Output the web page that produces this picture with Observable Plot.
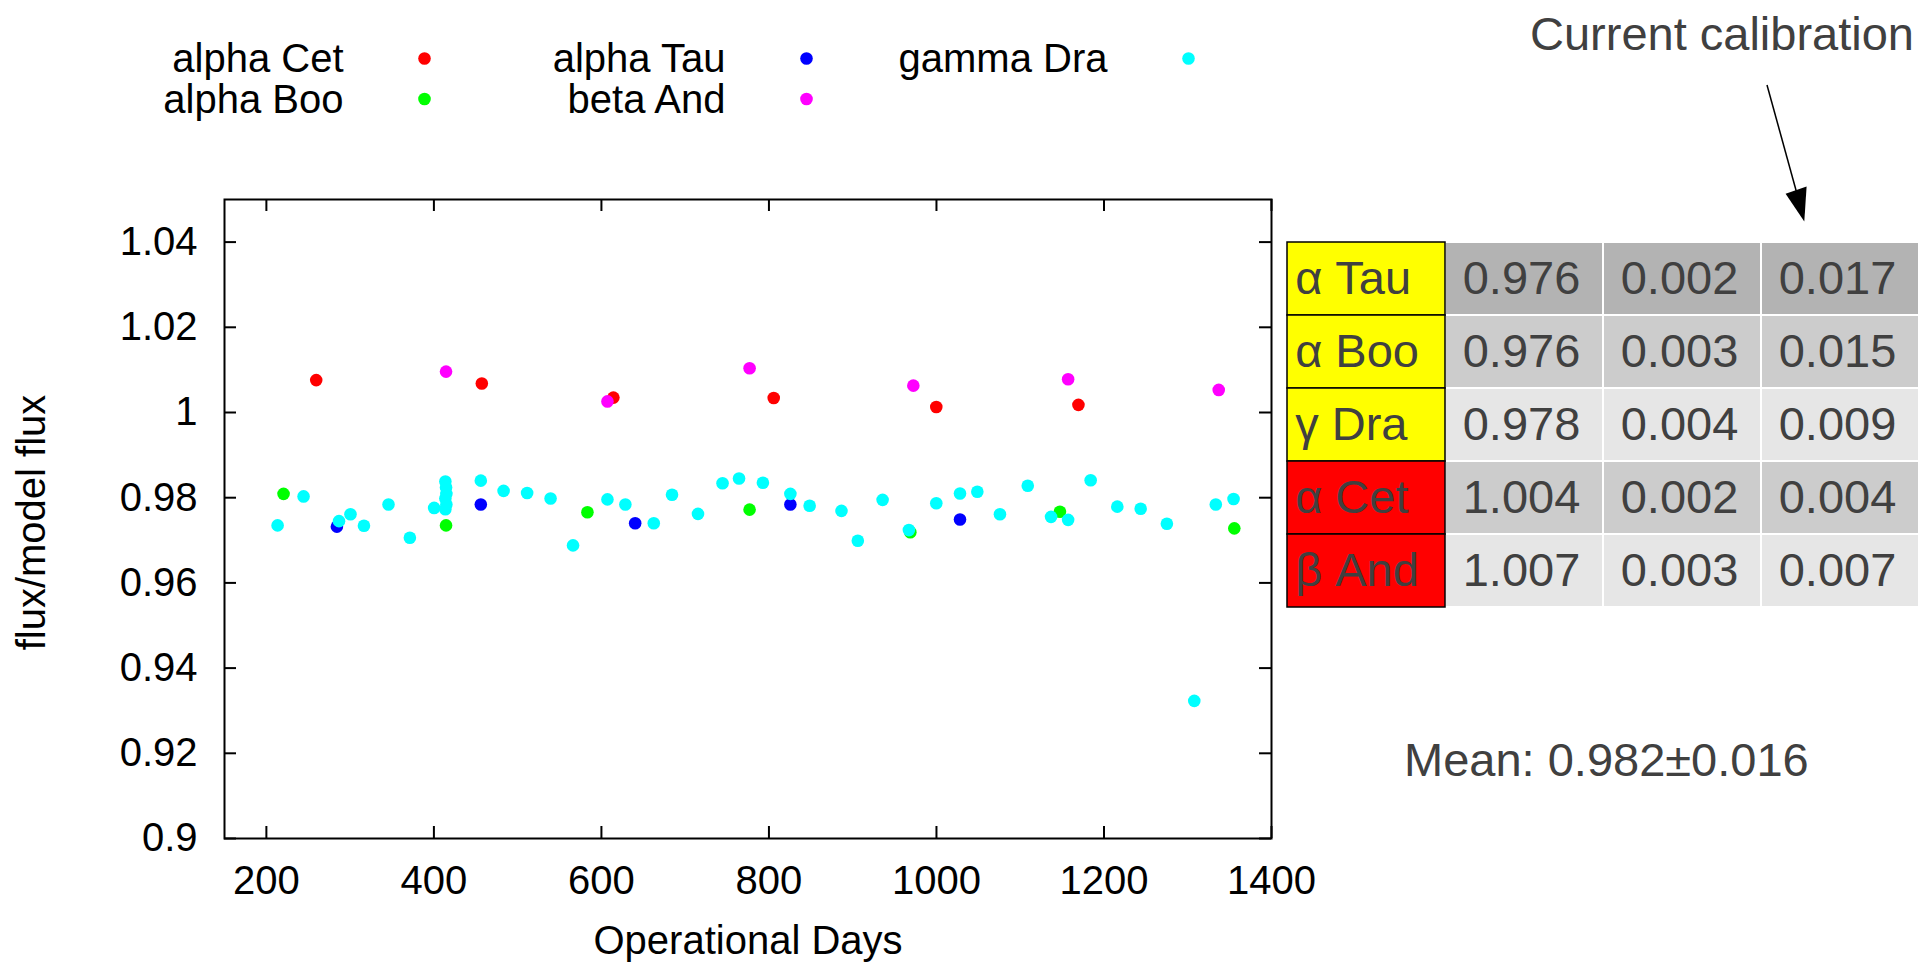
<!DOCTYPE html>
<html>
<head>
<meta charset="utf-8">
<script src="https://cdn.jsdelivr.net/npm/d3@7"></script>
<script src="https://cdn.jsdelivr.net/npm/@observablehq/plot@0.6"></script>
<style>
  html, body { margin: 0; padding: 0; background: #fff; overflow: hidden; }
  #page { position: relative; width: 1922px; height: 962px; background: #fff; }
  #page > svg { position: absolute; }
</style>
</head>
<body>
<div id="page"></div>
<script>
// Calibration stars: flux / model flux against operational day
const seriesNames = ["alpha Cet", "alpha Boo", "alpha Tau", "beta And", "gamma Dra"];
const seriesColors = ["#ff0000", "#00ff00", "#0000ff", "#ff00ff", "#00ffff"];

const alphaCetDays = [259.5, 457.2, 614.3, 805.7, 999.8, 1169.5];
const alphaCetFlux = [1.0076, 1.0068, 1.0035, 1.0034, 1.0013, 1.0018];

const alphaBooDays = [220.5, 414.5, 583.3, 776.9, 968.8, 1147.4, 1355.6];
const alphaBooFlux = [0.9809, 0.9735, 0.9766, 0.9772, 0.9719, 0.9767, 0.9728];

const alphaTauDays = [284.2, 456.0, 640.3, 825.6, 1028.1];
const alphaTauFlux = [0.9732, 0.9784, 0.9740, 0.9784, 0.9749];

const betaAndDays = [414.5, 607.2, 776.9, 972.4, 1157.2, 1337.0];
const betaAndFlux = [1.0096, 1.0026, 1.0104, 1.0063, 1.0078, 1.0053];

const gammaDraDays = [213.4, 244.4, 286.7, 300.4, 316.5, 345.8, 371.3, 400.3,
  413.7, 414.5, 414.9, 413.7, 414.9, 413.7,
  456.0, 483.2, 511.3, 539.3, 566.1, 607.2, 628.6, 662.5, 684.3, 715.3,
  744.6, 764.3, 792.8, 825.6, 848.6, 886.6, 906.1, 935.7, 967.1, 999.8,
  1028.1, 1048.8, 1075.8, 1109.0, 1136.8, 1157.2, 1184.1, 1215.9, 1243.8,
  1275.1, 1307.8, 1333.5, 1354.7];
const gammaDraFlux = [0.9735, 0.9803, 0.9745, 0.9761, 0.9734, 0.9784, 0.9706, 0.9776,
  0.9838, 0.9824, 0.9809, 0.9798, 0.9784, 0.9773,
  0.9840, 0.9816, 0.9811, 0.9798, 0.9688, 0.9796, 0.9784, 0.9740, 0.9807, 0.9762,
  0.9834, 0.9845, 0.9835, 0.9809, 0.9781, 0.9769, 0.9699, 0.9795, 0.9724, 0.9787,
  0.9810, 0.9814, 0.9761, 0.9828, 0.9755, 0.9748, 0.9841, 0.9779, 0.9774,
  0.9739, 0.9323, 0.9784, 0.9797];

const xTicks = [200, 400, 600, 800, 1000, 1200, 1400];
const yTicks = [0.9, 0.92, 0.94, 0.96, 0.98, 1, 1.02, 1.04];

// Summary table
const calStars = ["α Tau", "α Boo", "γ Dra", "α Cet", "β And"];
const calRatio = [0.976, 0.976, 0.978, 1.004, 1.007];
const calError = [0.002, 0.003, 0.004, 0.002, 0.003];
const calCurrent = [0.017, 0.015, 0.009, 0.004, 0.007];
const meanLabel = "Mean: 0.982±0.016";
const calibrationLabel = "Current calibration";

// ---- build rows ----
const seriesData = [
  [alphaCetDays, alphaCetFlux],
  [alphaBooDays, alphaBooFlux],
  [alphaTauDays, alphaTauFlux],
  [betaAndDays, betaAndFlux],
  [gammaDraDays, gammaDraFlux]
];
const points = seriesData.flatMap(([days, flux], s) =>
  days.map((day, i) => ({star: seriesNames[s], day, flux: flux[i]})));

const FONT = "'Liberation Sans', Arial, Helvetica, sans-serif";
const W = 1922, H = 962;
const mL = 224, mR = 651, mT = 199, mB = 124;
const frameW = W - mL - mR, frameH = H - mT - mB;
const tickLen = 12;

const chart = Plot.plot({
  width: W,
  height: H,
  marginLeft: mL,
  marginRight: mR,
  marginTop: mT,
  marginBottom: mB,
  style: {fontFamily: FONT, fontSize: "40px", color: "#000", background: "transparent", overflow: "visible"},
  x: {domain: [150, 1400]},
  y: {domain: [0.9, 1.05]},
  color: {domain: seriesNames, range: seriesColors},
  marks: [
    // inward ticks on all four sides
    Plot.ruleX(xTicks, {x: d => d, insetTop: frameH - tickLen, stroke: "#000", strokeWidth: 2}),
    Plot.ruleX(xTicks, {x: d => d, insetBottom: frameH - tickLen, stroke: "#000", strokeWidth: 2}),
    Plot.ruleY(yTicks, {y: d => d, insetRight: frameW - tickLen, stroke: "#000", strokeWidth: 2}),
    Plot.ruleY(yTicks, {y: d => d, insetLeft: frameW - tickLen, stroke: "#000", strokeWidth: 2}),
    Plot.axisX({ticks: xTicks, tickSize: 0, tickPadding: 27, tickFormat: d => String(d), label: null}),
    Plot.axisY({ticks: yTicks, tickSize: 0, tickPadding: 27, tickFormat: d => String(+d.toFixed(2)), label: null}),
    Plot.frame({stroke: "#000", strokeWidth: 2}),
    Plot.dot(points, {x: "day", y: "flux", fill: "star", r: 6.3}),
    Plot.text(["Operational Days"], {text: d => d, frameAnchor: "bottom", lineAnchor: "bottom", dy: 115}),
    Plot.text(["flux/model flux"], {text: d => d, frameAnchor: "left", textAnchor: "middle", lineAnchor: "bottom", rotate: -90, dx: -180, dy: 3.5})
  ]
});

const page = document.getElementById("page");
chart.style.left = "0px";
chart.style.top = "0px";
page.appendChild(chart);

// key: two rows, filled column by column
const svg = d3.select(chart);
const key = svg.append("g").attr("font-family", FONT).attr("font-size", 40).attr("fill", "#000");
seriesNames.forEach((name, i) => {
  const col = Math.floor(i / 2), row = i % 2;
  const tx = 343.5 + col * 382, ty = 72 + row * 40.5;
  key.append("text").attr("x", tx).attr("y", ty).attr("text-anchor", "end").text(name);
  key.append("circle").attr("cx", tx + 81).attr("cy", ty - 13.5).attr("r", 6.3).attr("fill", seriesColors[i]);
});

// annotation: column pointer and mean value
const note = svg.append("g").attr("font-family", FONT).attr("font-size", 47).attr("fill", "#404040").attr("text-anchor", "start");
note.append("text").attr("x", 1530).attr("y", 49.5).text(calibrationLabel);
note.append("text").attr("x", 1404).attr("y", 775.5).text(meanLabel);
note.append("line")
  .attr("x1", 1767).attr("y1", 85).attr("x2", 1796.5).attr("y2", 192)
  .attr("stroke", "#000").attr("stroke-width", 1.5);
note.append("path")
  .attr("d", "M1785.6,193.8 L1806.6,186.6 L1804.3,221.4 Z")
  .attr("fill", "#000");

// summary table
const rowShade = ["#b3b3b3", "#cccccc", "#e6e6e6", "#cccccc", "#e6e6e6"];
const labelFill = ["#ffff00", "#ffff00", "#ffff00", "#ff0000", "#ff0000"];
const numberCells = calStars.flatMap((star, i) =>
  [calRatio[i], calError[i], calCurrent[i]].map((value, j) => ({star, row: i, col: j + 1, value})));

const tableW = 635, tableH = 367;
const table = Plot.plot({
  width: tableW,
  height: tableH,
  margin: 0,
  style: {fontFamily: FONT, fontSize: "47px", background: "transparent", overflow: "visible"},
  x: {type: "band", domain: [0, 1, 2, 3], padding: 0, axis: null},
  y: {type: "band", domain: calStars, padding: 0, axis: null},
  color: {type: "identity"},
  marks: [
    Plot.cell(numberCells, {x: "col", y: "star", fill: d => rowShade[d.row], stroke: "#ffffff", strokeWidth: 2}),
    Plot.cell(calStars, {x: () => 0, y: d => d, fill: (d, i) => labelFill[i], stroke: "#000", strokeWidth: 1.5}),
    Plot.text(numberCells, {x: "col", y: "star", text: d => d.value.toFixed(3), fill: "#404040", dx: -3}),
    Plot.text(calStars, {x: () => 0, y: d => d, text: d => d, textAnchor: "start", dx: -tableW / 8 + 8, fill: "#404040"})
  ]
});
table.style.left = "1285px";
table.style.top = "241px";
page.appendChild(table);
</script>
</body>
</html>
